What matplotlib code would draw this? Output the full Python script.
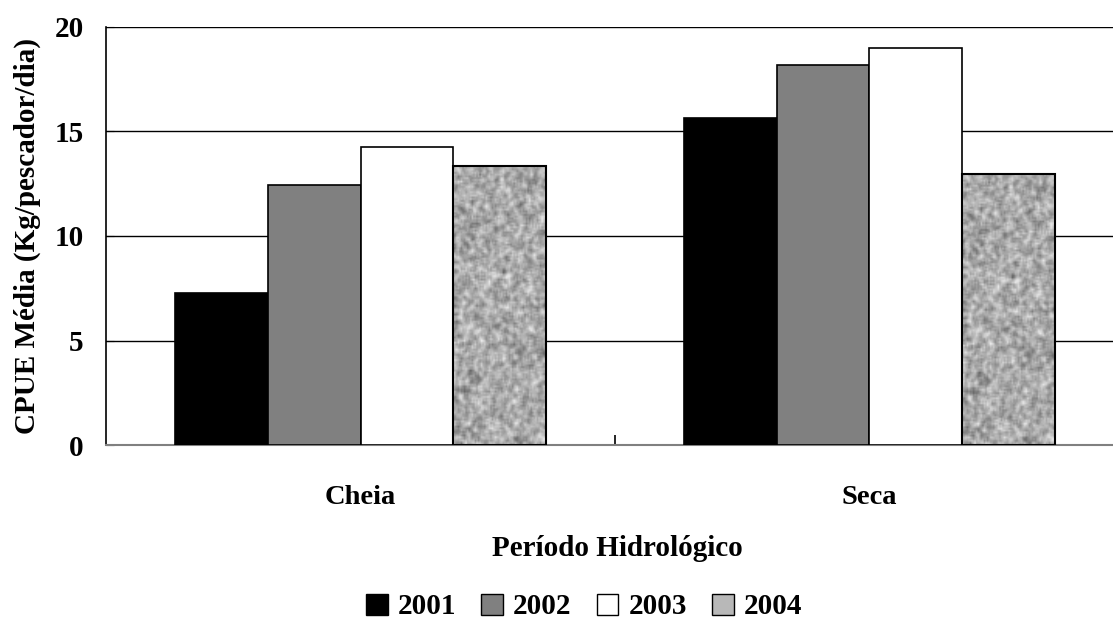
import numpy as np
import matplotlib
matplotlib.use("Agg")
import matplotlib.pyplot as plt
from matplotlib.patches import Patch

categories = ["Cheia", "Seca"]
years = ["2001", "2002", "2003", "2004"]
values_2001 = [7.27, 15.65]
values_2002 = [12.45, 18.2]
values_2003 = [14.27, 19.0]
values_2004 = [13.35, 12.97]
yticks = [0, 5, 10, 15, 20]

series = [values_2001, values_2002, values_2003, values_2004]
colors = ["#000000", "#808080", "#ffffff", None]

plt.rcParams["font.family"] = ["Liberation Serif", "DejaVu Serif"]
plt.rcParams["font.weight"] = "bold"

fig = plt.figure(figsize=(11.13, 6.35), dpi=100)
ax = fig.add_axes([106 / 1113, 1 - 445 / 635, 1 - 106 / 1113, (445 - 27) / 635])

group_w = 0.729
bw = group_w / 4
x = np.arange(len(categories))

# texture for 2004
rng = np.random.default_rng(3)
noise = rng.random((160, 60))
k = np.ones((3, 3)) / 9.0
pad = np.pad(noise, 1, mode="edge")
sm = sum(pad[i:i + noise.shape[0], j:j + noise.shape[1]] * k[i, j] for i in range(3) for j in range(3))
sm = (sm - sm.min()) / (sm.max() - sm.min())

for i, vals in enumerate(series):
    pos = x - group_w / 2 + bw * (i + 0.5)
    if colors[i] is not None:
        ax.bar(pos, vals, width=bw, color=colors[i], edgecolor="black", linewidth=1.2, zorder=3)
    else:
        bars = ax.bar(pos, vals, width=bw, facecolor="none", edgecolor="black", linewidth=1.5, zorder=4)
        for b in bars:
            x0 = b.get_x()
            im = ax.imshow(sm, extent=(x0, x0 + b.get_width(), 0, b.get_height()),
                           cmap="gray", vmin=-0.7, vmax=1.1, aspect="auto", zorder=3,
                           interpolation="bilinear")
            im.set_clip_path(b)

ax.set_xlim(-0.5, -0.5 + 1007 / 509)
ax.set_ylim(0, 20)
ax.set_yticks(yticks)
ax.set_yticklabels([str(t) for t in yticks], fontsize=21, fontweight="bold")
ax.yaxis.grid(True, color="black", linewidth=1.0, zorder=0)
ax.set_axisbelow(True)
ax.tick_params(axis="y", direction="in", length=6, pad=16, color="black")

ax.set_xticks(x)
ax.set_xticklabels(categories, fontsize=20.5, fontweight="bold")
ax.tick_params(axis="x", which="major", length=0, pad=29)
ax.set_xticks([0.5], minor=True)
ax.tick_params(axis="x", which="minor", direction="in", length=7, width=1.2, color="black")

for s in ["top", "right"]:
    ax.spines[s].set_visible(False)
ax.spines["left"].set_color("black")
ax.spines["left"].set_linewidth(1.2)
ax.spines["bottom"].set_color("#808080")
ax.spines["bottom"].set_linewidth(1.5)

ax.set_ylabel("CPUE Média (Kg/pescador/dia)", fontsize=21, fontweight="bold", labelpad=10)
fig.text(617 / 1113, 1 - 548 / 635, "Período Hidrológico", fontsize=21, fontweight="bold",
         ha="center", va="center")

handles = [Patch(facecolor="#000000", edgecolor="black"),
           Patch(facecolor="#808080", edgecolor="black"),
           Patch(facecolor="#ffffff", edgecolor="black"),
           Patch(facecolor="#b8b8b8", edgecolor="black")]
fig.legend(handles, years, loc="center", bbox_to_anchor=(584 / 1113, 1 - 607 / 635), ncol=4,
           frameon=False, prop={"size": 21, "weight": "bold"}, handlelength=0.75, handleheight=0.75,
           handletextpad=0.35, columnspacing=0.85)

fig.savefig("out.png", dpi=100)
